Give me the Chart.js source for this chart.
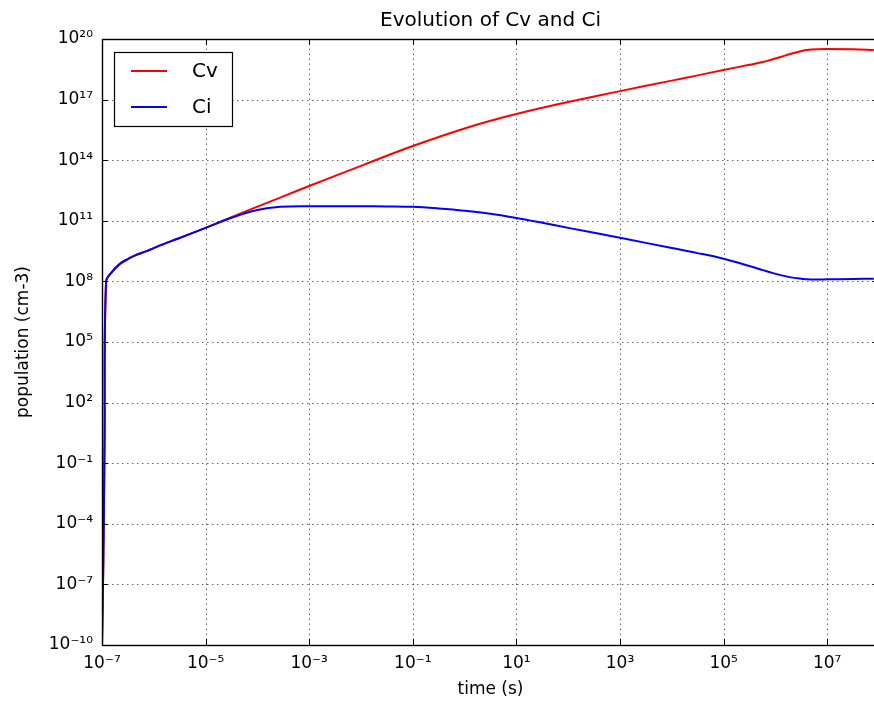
<!DOCTYPE html>
<html><head><meta charset="utf-8">
<script src="https://cdn.jsdelivr.net/npm/chart.js@4/dist/chart.umd.min.js"></script>
<style>
html,body{margin:0;padding:0;background:#fff;overflow:hidden;}
#wrap{position:relative;width:880px;height:707px;}
</style></head><body>
<div id="wrap"><canvas id="c" width="880" height="707"></canvas></div>
<script>
const chartTitle = 'Evolution of Cv and Ci';
const xAxisTitle = 'time (s)';
const yAxisTitle = 'population (cm-3)';
const seriesNames = ['Cv', 'Ci'];
const seriesColors = ['#ff0000', '#0000ff'];

const timeS = [1e-7, 1.06e-7, 1.12e-7, 1.2e-7, 1.55e-7, 2.24e-7, 3.24e-7, 4.37e-7, 7.24e-7, 1.32e-6,
  3.16e-6, 1e-5, 3.16e-5, 1e-4, 2.75e-4, 1e-3, 1e-2, 3.16e-2, 1e-1, 0.316, 1,
  3.16, 10, 31.6, 100, 1e3, 1e4, 3.16e4, 1e5, 3.16e5, 5.75e5,
  7.94e5, 1.26e6, 2e6, 3.39e6, 3.98e6, 6.31e6, 1e7, 3.16e7, 7.94e7];
const cvValues = [1e-10, 1e-6, 1, 1e8, 2.88e8, 7.59e8, 1.32e9, 1.95e9, 3.16e9, 6.03e9,
  1.41e10, 4.47e10, 1.51e11, 5.01e11, 1.41e12, 5.25e12, 5.25e13, 1.66e14, 5.01e14, 1.41e15, 3.72e15,
  8.91e15, 1.95e16, 3.98e16, 7.59e16, 2.63e17, 8.71e17, 1.58e18, 2.95e18, 5.25e18, 7.24e18,
  9.12e18, 1.29e19, 1.86e19, 2.63e19, 2.82e19, 3.09e19, 3.16e19, 3.09e19, 2.82e19];
const ciValues = [1e-10, 1e-6, 1, 1e8, 2.88e8, 7.59e8, 1.32e9, 1.95e9, 3.16e9, 6.03e9,
  1.41e10, 4.47e10, 1.41e11, 3.39e11, 4.9e11, 5.25e11, 5.25e11, 5.13e11, 4.9e11, 4.07e11, 3.16e11,
  2.24e11, 1.38e11, 7.94e10, 4.47e10, 1.45e10, 4.47e9, 2.51e9, 1.32e9, 5.75e8, 3.63e8,
  2.82e8, 2.04e8, 1.58e8, 1.32e8, 1.26e8, 1.23e8, 1.26e8, 1.32e8, 1.35e8];

const xTickValues = [1e-7, 1e-5, 1e-3, 1e-1, 1e1, 1e3, 1e5, 1e7];
const xTickLabels = ['10⁻⁷', '10⁻⁵', '10⁻³', '10⁻¹', '10¹', '10³', '10⁵', '10⁷'];
const yTickValues = [1e-10, 1e-7, 1e-4, 1e-1, 1e2, 1e5, 1e8, 1e11, 1e14, 1e17, 1e20];
const yTickLabels = ['10⁻¹⁰', '10⁻⁷', '10⁻⁴', '10⁻¹', '10²', '10⁵', '10⁸', '10¹¹', '10¹⁴', '10¹⁷', '10²⁰'];

const FONT = '"DejaVu Sans", sans-serif';

const series = [cvValues, ciValues];
const datasets = series.map((vals, k) => ({
  label: seriesNames[k],
  data: timeS.map((t, i) => ({x: t, y: vals[i]})),
  borderColor: seriesColors[k],
  backgroundColor: seriesColors[k],
  borderWidth: 2,
  pointRadius: 0,
  fill: false,
  tension: 0.35,
  order: k === 0 ? 1 : 0
}));

const gridPlugin = {
  id: 'mplGrid',
  beforeDatasetsDraw(chart) {
    const {ctx, chartArea: a, scales: {x, y}} = chart;
    ctx.save();
    ctx.strokeStyle = 'rgba(0,0,0,0.6)';
    ctx.lineWidth = 1;
    ctx.setLineDash([1.5, 3.5]);
    xTickValues.forEach(v => {
      const px = Math.round(x.getPixelForValue(v)) + 0.5;
      ctx.beginPath(); ctx.moveTo(px, a.bottom); ctx.lineTo(px, a.top); ctx.stroke();
    });
    yTickValues.forEach(v => {
      const py = Math.round(y.getPixelForValue(v)) + 0.5;
      ctx.beginPath(); ctx.moveTo(a.left, py); ctx.lineTo(a.right, py); ctx.stroke();
    });
    ctx.restore();
  },
  afterDatasetsDraw(chart) {
    const {ctx, chartArea: a, scales: {x, y}} = chart;
    ctx.save();
    ctx.setLineDash([]);
    ctx.strokeStyle = '#000';
    ctx.lineWidth = 1;
    const tl = 6;
    xTickValues.forEach(v => {
      const px = Math.round(x.getPixelForValue(v)) + 0.5;
      ctx.beginPath();
      ctx.moveTo(px, a.bottom); ctx.lineTo(px, a.bottom - tl);
      ctx.moveTo(px, a.top); ctx.lineTo(px, a.top + tl);
      ctx.stroke();
    });
    yTickValues.forEach(v => {
      const py = Math.round(y.getPixelForValue(v)) + 0.5;
      ctx.beginPath();
      ctx.moveTo(a.left, py); ctx.lineTo(a.left + tl, py);
      ctx.moveTo(a.right, py); ctx.lineTo(a.right - tl, py);
      ctx.stroke();
    });
    ctx.lineWidth = 1.4;
    ctx.strokeRect(Math.round(a.left) + 0.5, Math.round(a.top) + 0.5,
      Math.round(a.right - a.left), Math.round(a.bottom - a.top));
    ctx.restore();
  },
  afterDraw(chart) {
    const {ctx, chartArea: a} = chart;
    ctx.save();
    ctx.fillStyle = '#000';
    ctx.font = '20px ' + FONT;
    ctx.textAlign = 'center';
    ctx.textBaseline = 'middle';
    ctx.fillText(chartTitle, (a.left + a.right) / 2, 21);
    const bx = 114.5, by = 52.5, bw = 118, bh = 74;
    ctx.fillStyle = '#fff';
    ctx.fillRect(bx, by, bw, bh);
    ctx.strokeStyle = '#000';
    ctx.lineWidth = 1.2;
    ctx.strokeRect(bx, by, bw, bh);
    const rows = [71, 107];
    chart.data.datasets.forEach((ds, i) => {
      ctx.strokeStyle = ds.borderColor;
      ctx.lineWidth = 2;
      ctx.beginPath(); ctx.moveTo(131, rows[i]); ctx.lineTo(167, rows[i]); ctx.stroke();
      ctx.fillStyle = '#000';
      ctx.font = '20px ' + FONT;
      ctx.textAlign = 'left';
      ctx.textBaseline = 'middle';
      ctx.fillText(ds.label, 192, rows[i] + 1);
    });
    ctx.restore();
  }
};

new Chart(document.getElementById('c'), {
  type: 'line',
  data: {datasets},
  options: {
    responsive: false,
    devicePixelRatio: 1,
    animation: false,
    layout: {padding: {top: 39, right: 1, bottom: 0, left: 0}},
    plugins: {
      legend: {display: false},
      tooltip: {enabled: false},
      title: {display: false}
    },
    scales: {
      x: {
        type: 'logarithmic',
        position: 'bottom',
        min: 1e-7,
        max: 1e8,
        grid: {display: false, drawTicks: false},
        border: {display: false},
        afterBuildTicks: s => { s.ticks = xTickValues.map(v => ({value: v})); },
        afterFit: s => { s.height = 62; },
        ticks: {
          autoSkip: false, maxRotation: 0, padding: 8, color: '#000',
          font: {family: FONT, size: 17},
          callback: (v) => xTickLabels[xTickValues.indexOf(v)]
        },
        title: {display: true, text: xAxisTitle, color: '#000',
          font: {family: FONT, size: 17}, padding: {top: 0, bottom: 7}}
      },
      y: {
        type: 'logarithmic',
        position: 'left',
        min: 1e-10,
        max: 1e20,
        grid: {display: false, drawTicks: false},
        border: {display: false},
        afterBuildTicks: s => { s.ticks = yTickValues.map(v => ({value: v})); },
        afterFit: s => { s.width = 102; },
        ticks: {
          autoSkip: false, padding: 9, color: '#000',
          font: {family: FONT, size: 17},
          callback: (v) => yTickLabels[yTickValues.indexOf(v)]
        },
        title: {display: true, text: yAxisTitle, color: '#000',
          font: {family: FONT, size: 17}, padding: {top: 13, bottom: 0}}
      }
    }
  },
  plugins: [gridPlugin]
});
</script>
</body></html>
